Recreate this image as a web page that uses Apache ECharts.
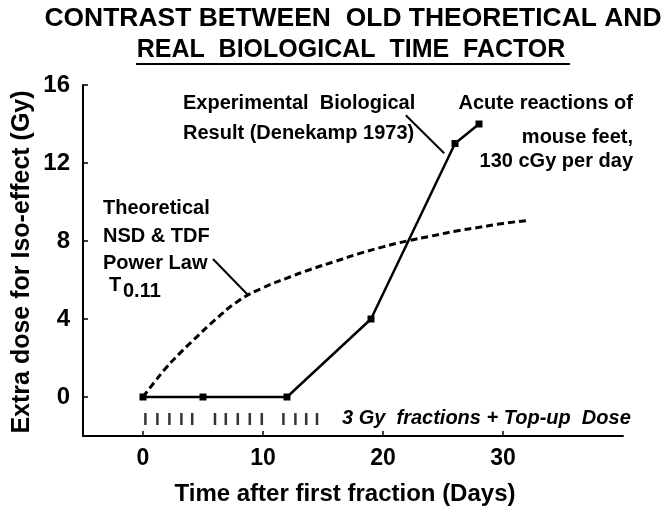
<!DOCTYPE html>
<html><head><meta charset="utf-8">
<script src="https://cdn.jsdelivr.net/npm/echarts@6/dist/echarts.min.js"></script>
<style>html,body{margin:0;padding:0;background:#fff}#c{width:666px;height:514px}</style>
</head><body><div id="c"></div>
<script>
// Experimental biological result (Denekamp 1973)
const expDays = [0, 5, 12, 19, 26, 28];
const expDose = [0, 0, 0, 4, 13, 14];
// Theoretical NSD & TDF power law curve
const theoDays = [0, 1, 2, 3, 4, 6, 8, 10, 12, 14, 16, 18, 20, 22, 24, 26, 28, 30, 32];
const theoDose = [0, 0.8, 1.55, 2.2, 2.8, 3.95, 4.95, 5.6, 6.1, 6.55, 6.95, 7.35, 7.7, 8.0, 8.25, 8.5, 8.7, 8.9, 9.05];
// 3 Gy fraction days
const fractionDays = [0.2, 1.2, 2.2, 3.2, 4.1, 6.0, 6.9, 7.9, 8.9, 9.9, 11.7, 12.7, 13.6, 14.5];
const fractionLevel = -1.13;
// pointer lines
const pointerTheo = [[5.83, 7.08], [8.75, 5.23]];
const pointerExp = [[21.9, 14.45], [25.1, 12.5]];
// ticks
const xTicks = [0, 10, 20, 30];
const yTicks = [0, 4, 8, 12, 16];

const F = "'Liberation Sans', Arial, Helvetica, sans-serif";
const chart = echarts.init(document.getElementById('c'));
const axisCommon = {
  axisLine: {show: true, onZero: false, lineStyle: {color: '#000', width: 2}},
  splitLine: {show: false},
};
function txt(x, y, text, size, extra) {
  return Object.assign({type: 'text', x: x, y: y,
    style: Object.assign({text: text, font: 'bold ' + size + 'px ' + F, fill: '#000', verticalAlign: 'middle'}, (extra && extra.style) || {})},
    extra && extra.el || {});
}
chart.setOption({
  animation: false,
  backgroundColor: '#fff',
  grid: {left: 83, right: 43, top: 85, bottom: 78},
  xAxis: Object.assign({
    type: 'value', min: -5, max: 40,
    axisTick: {show: true, inside: true, length: 5, customValues: xTicks, lineStyle: {color: '#000', width: 1.5}},
    axisLabel: {customValues: xTicks, color: '#000', fontSize: 23, fontWeight: 'bold', fontFamily: F, margin: 11},
  }, axisCommon),
  yAxis: Object.assign({
    type: 'value', min: -2, max: 16,
    axisTick: {show: true, inside: true, length: 5, customValues: yTicks, lineStyle: {color: '#000', width: 1.5}},
    axisLabel: {customValues: yTicks, color: '#000', fontSize: 24, fontWeight: 'bold', fontFamily: F, margin: 13},
  }, axisCommon),
  series: [
    {type: 'line', data: theoDays.map((d, i) => [d, theoDose[i]]), smooth: true, symbol: 'none',
     lineStyle: {color: '#000', width: 3, type: [7, 4]}, z: 2},
    {type: 'line', data: expDays.map((d, i) => [d, expDose[i]]), symbol: 'rect', symbolSize: 7,
     itemStyle: {color: '#000'}, lineStyle: {color: '#000', width: 2.5}, z: 3},
    {type: 'scatter', data: fractionDays.map(d => [d, fractionLevel]), symbol: 'rect', symbolSize: [2.5, 12],
     itemStyle: {color: '#000'}},
    {type: 'line', data: pointerTheo, symbol: 'none', lineStyle: {color: '#000', width: 2}},
    {type: 'line', data: pointerExp, symbol: 'none', lineStyle: {color: '#000', width: 2}},
  ],
  graphic: [
    txt(353, 19, 'CONTRAST BETWEEN  OLD THEORETICAL AND', 25, {style: {align: 'center'}, el: {scaleX: 1.058}}),
    txt(351, 50, 'REAL  BIOLOGICAL  TIME  FACTOR', 25, {style: {align: 'center'}}),
    {type: 'line', shape: {x1: 136, y1: 64, x2: 570, y2: 64}, style: {stroke: '#000', lineWidth: 2}},
    txt(22, 262, 'Extra dose for Iso-effect (Gy)', 25, {style: {align: 'center'}, el: {rotation: Math.PI / 2}}),
    txt(345, 494, 'Time after first fraction (Days)', 24, {style: {align: 'center'}}),
    txt(103, 208, 'Theoretical', 20),
    txt(103, 236, 'NSD & TDF', 20),
    txt(103, 263, 'Power Law', 20),
    txt(109, 285, 'T', 20),
    txt(123, 291, '0.11', 20),
    txt(183, 103, 'Experimental  Biological', 20),
    txt(183, 133, 'Result (Denekamp 1973)', 20),
    txt(633, 103, 'Acute reactions of', 20, {style: {align: 'right'}}),
    txt(633, 137, 'mouse feet,', 20, {style: {align: 'right'}}),
    txt(633, 161, '130 cGy per day', 20, {style: {align: 'right'}}),
    {type: 'text', x: 342, y: 418, style: {text: '3 Gy  fractions + Top-up  Dose', font: 'italic bold 20px ' + F, fill: '#000', verticalAlign: 'middle'}},
  ],
});
</script></body></html>
